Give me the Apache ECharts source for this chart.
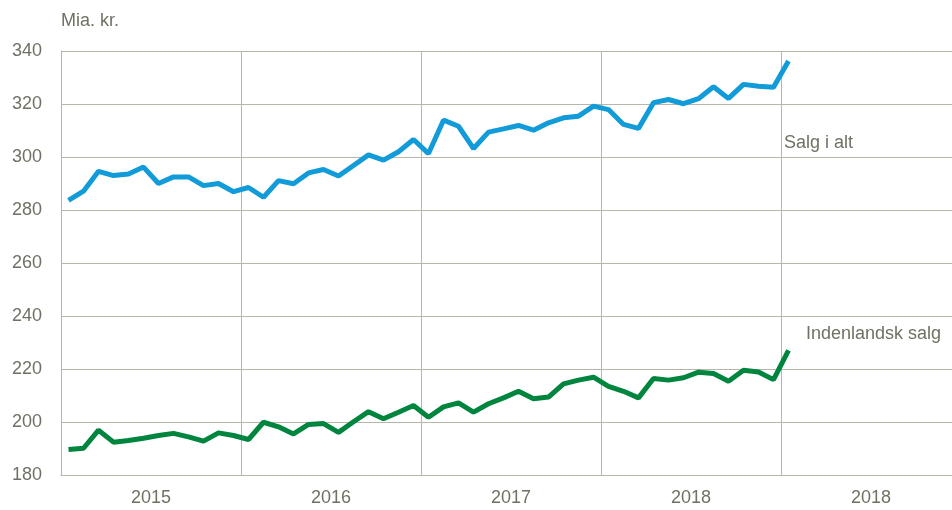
<!DOCTYPE html>
<html>
<head>
<meta charset="utf-8">
<script src="https://cdn.jsdelivr.net/npm/echarts@6/dist/echarts.min.js"></script>
<style>
  html, body { margin: 0; padding: 0; background: #fff; overflow: hidden; }
  /* plotområdet går lidt ud over billedets højre kant, derfor er diagrammet bredere end vinduet */
  #chart { width: 961px; height: 510px; }
</style>
</head>
<body>
<div id="chart"></div>
<script>
// år på x-aksen (sidste label står som 2018 i originalen)
const yearLabels = ['2015', '2016', '2017', '2018', '2018']

// månedlige kategorier jan 2015 - dec 2019
const months = []
for (let y = 2015; y <= 2019; y++) {
  for (let m = 1; m <= 12; m++) months.push(y + '-' + String(m).padStart(2, '0'))
}

// Salg i alt, mia. kr. (jan 2015 - jan 2019)
const salgIAlt = [
  283.6, 287.1, 294.6, 293.0, 293.6, 296.2, 290.0, 292.5, 292.5, 289.2, 290.0, 286.9,
  288.5, 284.8, 291.1, 289.9, 294.0, 295.3, 292.8, 296.8, 300.8, 298.8, 302.0, 306.6,
  301.3, 313.9, 311.6, 303.2, 309.4, 310.6, 311.9, 310.1, 312.9, 314.8, 315.4, 319.2,
  317.9, 312.3, 310.8, 320.5, 321.7, 320.1, 322.0, 326.5, 322.1, 327.4, 326.7, 326.3,
  336.2
]

// Indenlandsk salg, mia. kr.
const indenlandskSalg = [
  189.6, 190.1, 196.9, 192.4, 193.0, 193.9, 194.9, 195.7, 194.4, 192.8, 195.9, 194.9,
  193.4, 199.9, 198.2, 195.5, 199.1, 199.4, 196.1, 200.1, 203.9, 201.2, 203.7, 206.2,
  201.8, 205.7, 207.2, 203.7, 206.9, 209.1, 211.6, 208.8, 209.4, 214.4, 215.8, 216.9,
  213.4, 211.6, 209.1, 216.4, 215.8, 216.7, 218.8, 218.3, 215.4, 219.5, 218.9, 216.0,
  227.0
]

const gridColor = '#b9b6a9'
const textColor = '#707063'
const fontFamily = '"Liberation Sans", Arial, sans-serif'

const chart = echarts.init(document.getElementById('chart'))

chart.setOption({
  animation: false,
  textStyle: { fontFamily: fontFamily },
  grid: { left: 61, top: 51, right: 0, bottom: 35, containLabel: false },
  xAxis: [
    {
      type: 'category',
      data: months,
      boundaryGap: true,
      show: false
    },
    {
      type: 'category',
      data: yearLabels,
      position: 'bottom',
      boundaryGap: true,
      axisLine: { show: true, lineStyle: { color: gridColor, width: 1 } },
      axisTick: { show: false },
      splitLine: { show: true, interval: 0, lineStyle: { color: gridColor, width: 1 } },
      axisLabel: { color: textColor, fontSize: 18, margin: 14, fontFamily: fontFamily }
    }
  ],
  yAxis: {
    type: 'value',
    min: 180,
    max: 340,
    interval: 20,
    axisLine: { show: true, lineStyle: { color: gridColor, width: 1 } },
    axisTick: { show: false },
    splitLine: { show: true, lineStyle: { color: gridColor, width: 1 } },
    axisLabel: { color: textColor, fontSize: 18, margin: 19, fontFamily: fontFamily }
  },
  graphic: [
    { type: 'text', left: 61, top: 12, style: { text: 'Mia. kr.', fill: textColor, font: '18px ' + fontFamily } },
    { type: 'text', left: 784, top: 134, style: { text: 'Salg i alt', fill: textColor, font: '18px ' + fontFamily } },
    { type: 'text', left: 806, top: 325, style: { text: 'Indenlandsk salg', fill: textColor, font: '18px ' + fontFamily } }
  ],
  series: [
    {
      name: 'Salg i alt',
      type: 'line',
      xAxisIndex: 0,
      data: salgIAlt,
      symbol: 'none',
      lineStyle: { color: '#119bd8', width: 5 },
      itemStyle: { color: '#119bd8' }
    },
    {
      name: 'Indenlandsk salg',
      type: 'line',
      xAxisIndex: 0,
      data: indenlandskSalg,
      symbol: 'none',
      lineStyle: { color: '#00853f', width: 5 },
      itemStyle: { color: '#00853f' }
    }
  ]
})
</script>
</body>
</html>
